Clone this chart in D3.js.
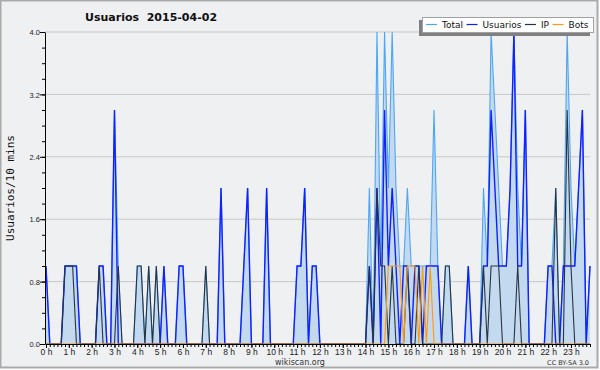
<!DOCTYPE html>
<html>
<head>
<meta charset="utf-8">
<script src="https://cdn.jsdelivr.net/npm/d3@7"></script>
<style>
  body { margin: 0; background: #fff; }
  svg { display: block; font-family: "DejaVu Sans", Verdana, sans-serif; }
</style>
</head>
<body>
<div id="chart"></div>
<script>
// One value per 10 minute slot, 144 slots (0:00 .. 23:50)
const total = [
  1,0,0,0,0,1,1,1,1,0,0,0,  0,0,1,1,0,0,3,1,0,0,0,0,
  1,1,0,1,0,1,0,1,0,0,0,1,  1,0,0,0,0,0,1,0,0,0,2,0,
  0,0,0,0,1,2,0,0,0,0,2,0,  0,0,0,0,0,0,1,1,2,0,1,1,
  0,0,0,0,0,0,0,0,0,0,0,0,  0,2,0,4,1,4,2,4,2,1,1,2,
  1,1,1,1,1,1,3,1,0,1,1,0,  0,0,0,1,0,0,0,2,1,4,3,2,
  1,1,2,4,2,1,3,0,0,0,0,0,  1,1,2,0,1,4,2,1,2,3,0,1
];
const usuarios = [
  1,0,0,0,0,1,1,1,1,0,0,0,  0,0,1,1,0,0,3,0,0,0,0,0,
  0,0,0,0,0,0,0,1,0,0,0,1,  1,0,0,0,0,0,0,0,0,0,2,0,
  0,0,0,0,1,2,0,0,0,0,2,0,  0,0,0,0,0,0,1,1,2,0,1,1,
  0,0,0,0,0,0,0,0,0,0,0,0,  0,1,0,2,0,3,1,2,1,0,1,1,
  0,1,1,0,1,1,1,1,0,0,0,0,  0,0,0,1,0,0,0,1,1,3,2,1,
  1,1,2,4,1,1,3,0,0,0,0,0,  1,1,0,0,1,1,1,1,2,3,0,1
];
const ip = [
  0,0,0,0,0,1,1,1,0,0,0,0,  0,0,1,0,0,0,0,1,0,0,0,0,
  1,1,0,1,0,1,0,0,0,0,0,0,  0,0,0,0,0,0,1,0,0,0,0,0,
  0,0,0,0,0,0,0,0,0,0,0,0,  0,0,0,0,0,0,0,0,0,0,0,0,
  0,0,0,0,0,0,0,0,0,0,0,0,  0,1,0,2,1,1,0,1,0,0,0,1,
  0,0,1,0,0,0,0,0,0,1,1,0,  0,0,0,0,0,0,0,1,0,1,1,1,
  0,0,0,0,1,0,0,0,0,0,0,0,  0,0,2,0,0,3,1,0,0,0,0,0
];
const bots = [
  0,0,0,0,0,0,0,0,0,0,0,0,  0,0,0,0,0,0,0,0,0,0,0,0,
  0,0,0,0,0,0,0,0,0,0,0,0,  0,0,0,0,0,0,0,0,0,0,0,0,
  0,0,0,0,0,0,0,0,0,0,0,0,  0,0,0,0,0,0,0,0,0,0,0,0,
  0,0,0,0,0,0,0,0,0,0,0,0,  0,0,0,0,0,0,1,1,1,1,0,1,
  1,1,0,1,0,1,0,0,0,0,0,0,  0,0,0,0,0,0,0,0,0,0,0,0,
  0,0,0,0,0,0,0,0,0,0,0,0,  0,0,0,0,0,0,0,0,0,0,0,0
];
const yTicks = [0, 0.8, 1.6, 2.4, 3.2, 4.0];
const hourLabels = d3.range(24).map(h => h + " h");

const series = [
  { name: "Total", values: total, color: "#4ea6f5", width: 1.1 },
  { name: "Usuarios", values: usuarios, color: "#1020ff", width: 1.4 },
  { name: "IP", values: ip, color: "#2a3440", width: 1.1 },
  { name: "Bots", values: bots, color: "#ff9a10", width: 1.1 }
];

const W = 600, H = 370;
const svg = d3.select("#chart").append("svg")
    .attr("width", W)
    .attr("height", H);

// background + frame
svg.append("rect")
    .attr("x", 0.5).attr("y", 0.5)
    .attr("width", W - 3).attr("height", H - 3)
    .attr("fill", "#eff0f2")
    .attr("stroke", "#aaaaaa")
    .attr("stroke-width", 2);

const x = d3.scaleLinear().domain([0, 143]).range([46, 590]);
const y = d3.scaleLinear().domain([0, 4]).range([344, 32]);

// grid lines
svg.append("g")
    .selectAll("line")
    .data(yTicks.filter(d => d > 0))
    .enter().append("line")
    .attr("x1", 45).attr("x2", 590)
    .attr("y1", d => y(d)).attr("y2", d => y(d))
    .style("stroke", "#c8c8c8");

// filled area under total
const area = d3.area()
    .x((d, i) => x(i))
    .y0(y(0))
    .y1(d => y(d));

svg.append("path")
    .datum(total)
    .attr("d", area)
    .attr("fill", "#c2d9ef");

// the four lines
const line = d3.line()
    .x((d, i) => x(i))
    .y(d => y(d));

series.forEach(s => {
    svg.append("path")
        .datum(s.values)
        .attr("d", line)
        .attr("fill", "none")
        .attr("stroke", s.color)
        .attr("stroke-width", s.width)
        .attr("stroke-linejoin", "miter");
});

// y axis, minor ticks every 0.2
svg.append("g")
    .attr("transform", "translate(45,0)")
    .call(d3.axisLeft(y).tickValues(d3.range(0, 4.01, 0.2)).tickSize(3).tickFormat("").tickSizeOuter(0))
    .call(g => g.select(".domain").remove());

const yAxis = svg.append("g")
    .attr("transform", "translate(45,0)")
    .call(d3.axisLeft(y).tickValues(yTicks).tickSize(5).tickSizeOuter(0).tickFormat(d3.format(".1f")));
yAxis.selectAll("text").style("font-size", "7.5px").attr("x", -5).attr("dy", "0.35em").style("fill", "#222");

// x axis, minor ticks every 10 minutes
svg.append("g")
    .attr("transform", "translate(0,344)")
    .call(d3.axisBottom(x).tickValues(d3.range(0, 144)).tickSize(3).tickFormat("").tickSizeOuter(0))
    .call(g => g.select(".domain").remove());

const xAxis = svg.append("g")
    .attr("transform", "translate(0,344)")
    .call(d3.axisBottom(x).tickValues(d3.range(0, 144, 6)).tickSize(4).tickSizeOuter(0)
        .tickFormat((d, i) => hourLabels[i]));
xAxis.select(".domain").attr("d", "M45.5,0.5H590.5");
xAxis.selectAll("text").style("font-size", "8.5px").attr("y", 5).style("fill", "#222");

// titles
svg.append("text")
    .attr("x", 85).attr("y", 21)
    .style("font-size", "11px").style("font-weight", "bold")
    .style("fill", "#111")
    .attr("xml:space", "preserve")
    .text("Usuarios  2015-04-02");

svg.append("text")
    .attr("transform", "translate(14,188) rotate(-90)")
    .style("text-anchor", "middle")
    .style("font-family", "'DejaVu Sans Mono', monospace")
    .style("font-size", "11px")
    .style("fill", "#111")
    .text("Usuarios/10 mins");

svg.append("text")
    .attr("x", 300).attr("y", 365)
    .style("text-anchor", "middle")
    .style("font-size", "8px")
    .style("fill", "#333")
    .text("wikiscan.org");

svg.append("text")
    .attr("x", 589).attr("y", 365)
    .style("text-anchor", "end")
    .style("font-size", "6.5px")
    .style("fill", "#333")
    .text("CC BY-SA 3.0");

// legend with drop shadow
const legend = svg.append("g");
legend.append("rect")
    .attr("x", 419).attr("y", 20).attr("width", 171).attr("height", 16)
    .attr("fill", "#808080");
legend.append("rect")
    .attr("x", 422.5).attr("y", 17.5).attr("width", 171).attr("height", 15)
    .attr("fill", "#fff").attr("stroke", "#a0a0a0");

let lx = 426;
series.forEach(s => {
    legend.append("line")
        .attr("x1", lx).attr("x2", lx + 11)
        .attr("y1", 24.5).attr("y2", 24.5)
        .attr("stroke", s.color).attr("stroke-width", 1.2);
    const t = legend.append("text")
        .attr("x", lx + 16).attr("y", 28)
        .style("font-size", "9px")
        .style("fill", "#111")
        .text(s.name);
    lx += 16 + t.node().getComputedTextLength() + 3.5;
});
</script>
</body>
</html>
